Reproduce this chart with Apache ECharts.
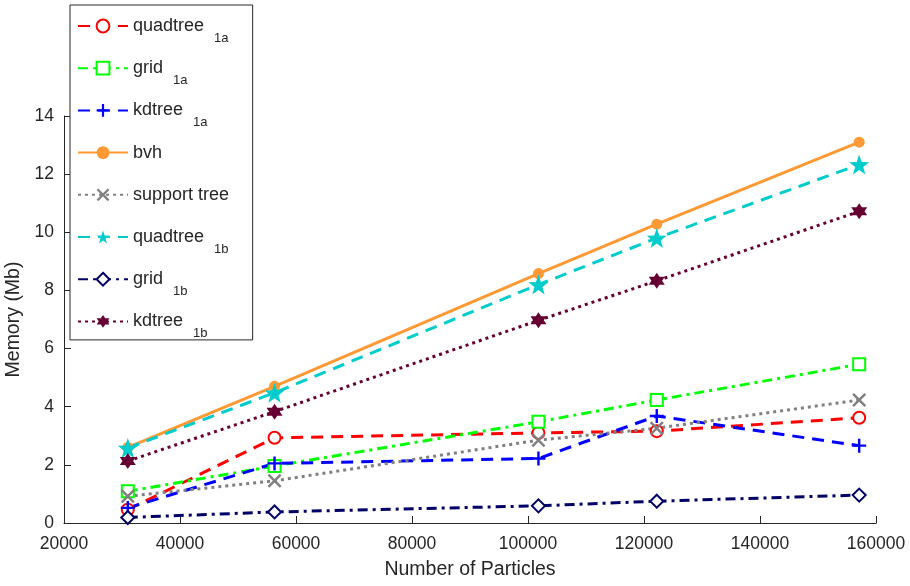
<!DOCTYPE html>
<html><head><meta charset="utf-8">
<script src="https://cdn.jsdelivr.net/npm/echarts@6/dist/echarts.min.js"></script>
<style>html,body{margin:0;padding:0;background:#fff}#c{width:910px;height:586px}</style>
</head><body><div id="c"></div>
<script>
const particles = [31000, 56300, 101800, 122200, 157100];
const quadtree1a = [0.46, 2.93, 3.10, 3.16, 3.62];
const grid1a = [1.09, 1.96, 3.48, 4.23, 5.46];
const kdtree1a = [0.52, 2.05, 2.22, 3.68, 2.66];
const bvh = [2.60, 4.70, 8.58, 10.28, 13.10];
const supportTree = [0.92, 1.45, 2.85, 3.26, 4.23];
const quadtree1b = [2.58, 4.48, 8.20, 9.80, 12.33];
const grid1b = [0.19, 0.38, 0.59, 0.75, 0.96];
const kdtree1b = [2.13, 3.83, 6.97, 8.33, 10.72];
const xTicks = [20000, 40000, 60000, 80000, 100000, 120000, 140000, 160000];
const yTicks = [0, 2, 4, 6, 8, 10, 12, 14];

const FONT = 'Liberation Sans';
const TXT = '#262626';
const PLUS = 'path://M-1.2,-7 L1.2,-7 L1.2,-1.2 L7,-1.2 L7,1.2 L1.2,1.2 L1.2,7 L-1.2,7 L-1.2,1.2 L-7,1.2 L-7,-1.2 L-1.2,-1.2 Z';
const XMARK = 'path://M-4.24,-5.66 L5.66,4.24 L4.24,5.66 L-5.66,-4.24 Z M-5.66,4.24 L4.24,-5.66 L5.66,-4.24 L-4.24,5.66 Z';
const STAR = 'path://M0,-10 L2.35,-3.24 L9.51,-3.09 L3.80,1.24 L5.88,8.09 L0,4 L-5.88,8.09 L-3.80,1.24 L-9.51,-3.09 L-2.35,-3.24 Z';
const HEX = 'path://M0,-10 L8.66,5 L-8.66,5 Z M0,10 L-8.66,-5 L8.66,-5 Z';

function pairs(v){ return particles.map((x,i)=>[x, v[i]]); }

const defs = [
  {name:'quadtree|1a', data:quadtree1a, color:'#ff0000', type:[12,8], symbol:'emptyCircle', size:12},
  {name:'grid|1a', data:grid1a, color:'#00ff00', type:[10,5,3,5], symbol:'emptyRect', size:12},
  {name:'kdtree|1a', data:kdtree1a, color:'#0000ff', type:[12,8], symbol:PLUS, size:14},
  {name:'bvh', data:bvh, color:'#ff9933', type:'solid', symbol:'circle', size:11},
  {name:'support tree', data:supportTree, color:'#808080', type:[3,4], symbol:XMARK, size:14},
  {name:'quadtree|1b', data:quadtree1b, color:'#00cccc', type:[12,8], symbol:STAR, size:20},
  {name:'grid|1b', data:grid1b, color:'#000066', type:[10,5,3,5], symbol:'emptyDiamond', size:13},
  {name:'kdtree|1b', data:kdtree1b, color:'#660033', type:[3,4], symbol:HEX, size:16}
];

const series = defs.map(d => {
  const empty = d.symbol.startsWith('empty');
  return {
    name: d.name, type:'line', data: pairs(d.data),
    symbol: d.symbol, symbolSize: d.size,
    lineStyle:{color:d.color, width:3, type:d.type},
    itemStyle:{color:d.color, borderColor:d.color, borderWidth: empty ? 2.5 : 0},
    emphasis:{disabled:true}, animation:false
  };
});

const chart = echarts.init(document.getElementById('c'), null, {renderer:'canvas'});
chart.setOption({
  backgroundColor:'#fff',
  animation:false,
  textStyle:{fontFamily:FONT},
  grid:{left:64, right:34, top:116, bottom:63, containLabel:false, outerBoundsMode:'none'},
  xAxis:{
    type:'value', min:20000, max:160000, interval:20000,
    name:'Number of Particles', nameLocation:'middle', nameGap:36.5,
    nameTextStyle:{fontFamily:FONT, fontSize:19.5, color:TXT},
    axisLine:{show:true, lineStyle:{color:TXT, width:1}},
    axisTick:{show:true, inside:true, length:7, lineStyle:{color:TXT}},
    axisLabel:{fontFamily:FONT, fontSize:17.5, color:TXT, margin:12,
      formatter: v => xTicks.includes(v) ? String(v) : ''},
    splitLine:{show:false}
  },
  yAxis:{
    type:'value', min:0, max:14, interval:2,
    name:'Memory (Mb)', nameLocation:'middle', nameGap:33,
    nameTextStyle:{fontFamily:FONT, fontSize:19.5, color:TXT},
    axisLine:{show:true, lineStyle:{color:TXT, width:1}},
    axisTick:{show:true, inside:true, length:7, lineStyle:{color:TXT}},
    axisLabel:{fontFamily:FONT, fontSize:17.5, color:TXT, margin:10,
      formatter: v => yTicks.includes(v) ? String(v) : ''},
    splitLine:{show:false}
  },
  legend:{
    orient:'vertical', left:70, top:5,
    backgroundColor:'#fff', borderColor:TXT, borderWidth:1,
    padding:[12,20,0,7], itemGap:14.7, itemWidth:50, itemHeight:16,
    data: defs.map(d=>d.name),
    formatter: n => {
      const p = n.split('|');
      return p.length>1 ? '{n|'+p[0]+'}{s|'+p[1]+'}' : '{n|'+p[0]+'}{e|\u00a0}';
    },
    textStyle:{fontFamily:FONT, fontSize:18, color:TXT,
      rich:{
        n:{fontFamily:FONT, fontSize:18, color:TXT},
        s:{fontFamily:FONT, fontSize:13, color:TXT, padding:[24,0,0,10]},
        e:{fontFamily:FONT, fontSize:13, color:TXT, padding:[24,0,0,0]}
      }
    }
  },
  series: series
});
</script></body></html>
